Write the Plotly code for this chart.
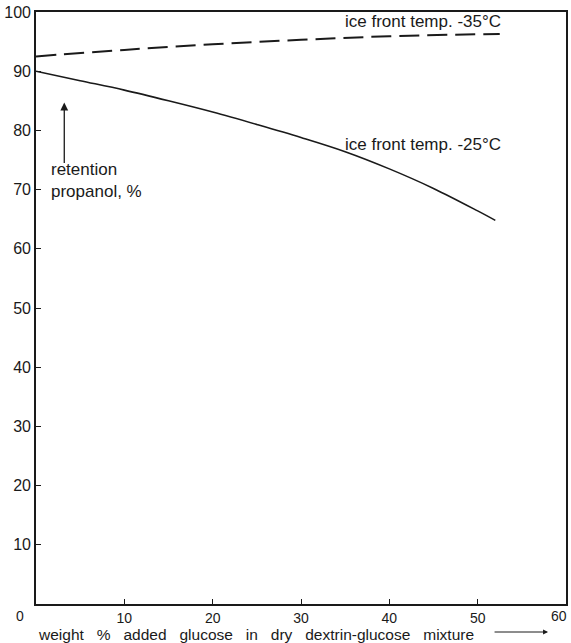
import plotly.graph_objects as go

# Data
glucose_m25 = [0, 5, 10, 15, 20, 25, 30, 35, 40, 45, 50, 52]
retention_m25 = [90.0, 88.4, 86.8, 85.0, 83.1, 81.0, 78.8, 76.4, 73.5, 70.2, 66.4, 64.8]
glucose_m35 = [0, 10, 20, 30, 40, 52.5]
retention_m35 = [92.5, 93.6, 94.55, 95.3, 95.9, 96.3]
x_ticks = [10, 20, 30, 40, 50, 60]
x_labels = ["10", "20", "30", "40", "50", ""]
y_ticks = [10, 20, 30, 40, 50, 60, 70, 80, 90, 100]

FONT = "Liberation Sans"
INK = "#1a1a1a"
GAP = " \u00a0\u00a0"
x_title = GAP.join(["weight", "%", "added", "glucose", "in", "dry", "dextrin-glucose", "mixture"])

fig = go.Figure()
fig.add_trace(go.Scatter(x=glucose_m35, y=retention_m35, mode="lines", line_shape="spline",
                         line=dict(color=INK, width=2, dash="20px,8px"), hoverinfo="skip"))
fig.add_trace(go.Scatter(x=glucose_m25, y=retention_m25, mode="lines", line_shape="spline",
                         line=dict(color=INK, width=1.6), hoverinfo="skip"))

ann = [
    dict(x=52.9, y=98.4, xref="x", yref="y", text="ice front temp. -35°C", showarrow=False,
         xanchor="right", yanchor="middle", font=dict(size=17, family=FONT, color=INK)),
    dict(x=52.9, y=77.6, xref="x", yref="y", text="ice front temp. -25°C", showarrow=False,
         xanchor="right", yanchor="middle", font=dict(size=17, family=FONT, color=INK)),
    dict(x=1.47, y=71.6, xref="x", yref="y", text="retention<br>propanol, %", showarrow=False,
         xanchor="left", yanchor="middle", align="left", font=dict(size=17, family=FONT, color=INK)),
    dict(x=3.2, y=84.7, xref="x", yref="y", text="", showarrow=True, ax=0, ay=62,
         arrowhead=2, arrowsize=1.2, arrowwidth=1.3, arrowcolor=INK),
    dict(x=-16 / 532, y=-12 / 592, xref="paper", yref="paper", text="0", showarrow=False,
         xanchor="center", yanchor="middle", font=dict(size=14, family=FONT, color=INK)),
    dict(x=(561 - 36) / 532, y=-12 / 592, xref="paper", yref="paper", text="60", showarrow=False,
         xanchor="center", yanchor="middle", font=dict(size=14, family=FONT, color=INK)),
    dict(x=0, y=-30 / 592, xref="paper", yref="paper", text=x_title,
         showarrow=False, xanchor="left", yanchor="middle",
         font=dict(size=15.5, family=FONT, color=INK)),
    dict(x=(550 - 36) / 532, y=-28 / 592, xref="paper", yref="paper", text="", showarrow=True,
         ax=-55, ay=0, arrowhead=2, arrowsize=1, arrowwidth=1, arrowcolor=INK),
]

fig.update_layout(
    width=571, height=643,
    margin=dict(l=36, r=3, t=12, b=39),
    paper_bgcolor="white", plot_bgcolor="white",
    showlegend=False,
    annotations=ann,
    font=dict(family=FONT, color=INK),
    xaxis=dict(range=[0, 60], tickvals=x_ticks, ticktext=x_labels, ticks="inside", ticklen=5,
               tickwidth=1.2, tickcolor=INK, showgrid=False, zeroline=False, showline=True,
               linecolor=INK, linewidth=1.6, mirror=True,
               tickfont=dict(size=14, family=FONT, color=INK)),
    yaxis=dict(range=[0, 100], tickvals=y_ticks, ticks="inside", ticklen=5, tickwidth=1.2,
               tickcolor=INK, showgrid=False, zeroline=False, showline=True, linecolor=INK,
               linewidth=1.6, mirror=True, tickfont=dict(size=16, family=FONT, color=INK)),
)

fig.write_html("out.html", config={"displayModeBar": False},
               post_script="document.body.style.margin='0';")
